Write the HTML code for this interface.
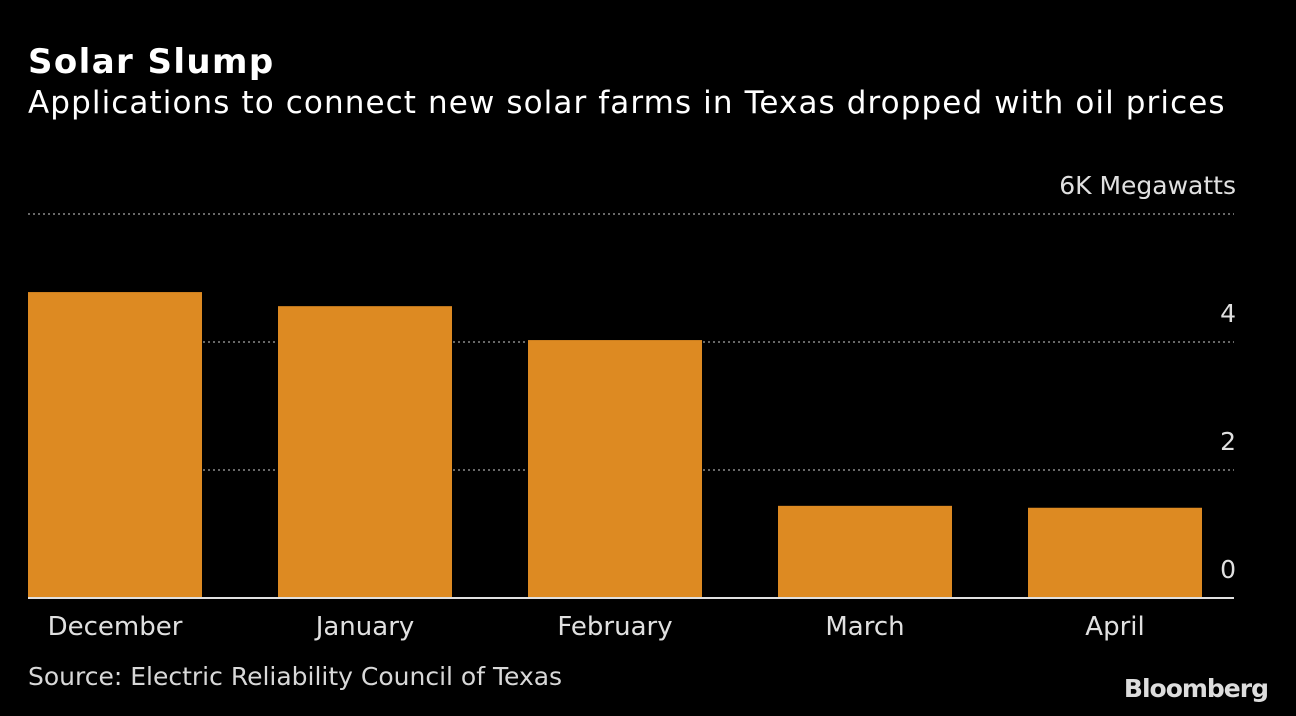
<!DOCTYPE html>
<html><head><meta charset="utf-8"><style>
html,body{margin:0;padding:0;background:#000;}
body{width:1296px;height:716px;position:relative;overflow:hidden;font-family:"DejaVu Sans","Liberation Sans",sans-serif;color:#e6e6e6;}
.t{position:absolute;white-space:nowrap;}
</style></head><body>
<div class="t" style="left:28px;top:42px;font-size:34px;font-weight:bold;color:#fff;letter-spacing:1.4px;">Solar Slump</div>
<div class="t" style="left:28px;top:85px;font-size:31px;color:#fff;letter-spacing:1.1px;">Applications to connect new solar farms in Texas dropped with oil prices</div>
<svg id="chart" width="1296" height="716" style="position:absolute;left:0;top:0;"></svg>
<div class="t" style="left:28px;top:662px;font-size:25px;color:#d8d8d8;">Source: Electric Reliability Council of Texas</div>
<div class="t" style="right:28px;top:674px;font-size:25px;font-weight:bold;color:#ddd;letter-spacing:-1px;">Bloomberg</div>
<script>
const categories=["December","January","February","March","April"];
const values=[4.78,4.56,4.03,1.44,1.41];
const ticks=[0,2,4,6];
const tickLabels=["0","2","4","6K Megawatts"];
const svg=document.getElementById('chart');
const NS='http://www.w3.org/2000/svg';
const y0=598,pxPer=64,left=28,right=1234,step=250,bw=174;
const y=v=>y0-v*pxPer;
const x=i=>left+i*step;
function mk(t,a){const e=document.createElementNS(NS,t);for(const k in a)e.setAttribute(k,a[k]);svg.appendChild(e);return e;}
ticks.forEach((v,i)=>{
  if(v>0){const g=mk('line',{x1:left,x2:right,y1:y(v),y2:y(v),stroke:'#8a8a8a','stroke-width':1.5,'stroke-dasharray':'2,3'});
  
  }
  const tx=mk('text',{x:1236,y:y(v)-20,'text-anchor':'end','font-size':25,fill:'#e0e0e0','font-family':'DejaVu Sans, Liberation Sans, sans-serif'});
  tx.textContent=tickLabels[i];
  
  
});
values.forEach((v,i)=>{
  const r=mk('rect',{x:x(i),y:y(v),width:bw,height:y0-y(v),fill:'#dd8a22'});
  
  
  const t=mk('text',{x:x(i)+bw/2,y:635,'text-anchor':'middle','font-size':26,fill:'#e0e0e0','font-family':'DejaVu Sans, Liberation Sans, sans-serif'});
  t.textContent=categories[i];
  
  
});
const ax=mk('line',{x1:left,x2:right,y1:y0,y2:y0,stroke:'#e0e0e0','stroke-width':2});


</script>
</body></html>
